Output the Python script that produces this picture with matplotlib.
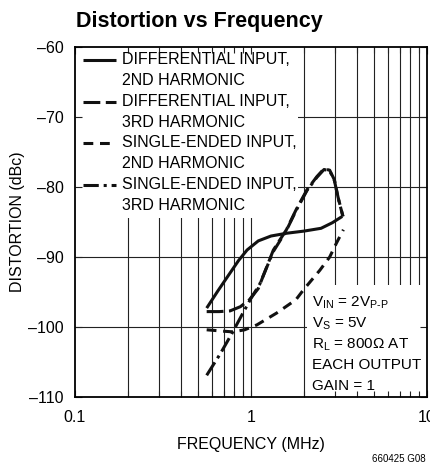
import numpy as np
import matplotlib
matplotlib.use('Agg')
import matplotlib.pyplot as plt
from matplotlib.patches import Rectangle
from matplotlib.ticker import LogLocator, FixedLocator, NullFormatter

plt.rcParams['font.family'] = ['Liberation Sans', 'DejaVu Sans']
plt.rcParams['mathtext.fontset'] = 'custom'
plt.rcParams['mathtext.rm'] = 'Liberation Sans'
plt.rcParams['mathtext.it'] = 'Liberation Sans'

# data (MHz, dBc)
diff2_f = [0.56, 0.65, 0.75, 0.85, 0.95, 1.1, 1.3, 1.6, 2.0, 2.5, 2.9, 3.3]
diff2_db = [-97.3, -94.8, -92.5, -90.5, -89.0, -87.7, -87.0, -86.6, -86.3, -85.9, -85.1, -84.2]

diff3_f = [0.56, 0.66, 0.76, 0.87, 0.98, 1.1, 1.34, 1.59, 1.8, 2.08, 2.37, 2.6, 2.8, 2.98, 3.12, 3.33]
diff3_db = [-97.8, -97.8, -97.7, -97.1, -96.1, -94.5, -89.0, -86.1, -83.3, -80.4, -78.5, -77.4, -77.6, -79.0, -81.4, -84.2]

se2_f = [0.56, 0.7, 0.79, 0.92, 1.08, 1.4, 1.8, 2.0, 2.46, 2.8, 3.06, 3.35]
se2_db = [-100.4, -100.6, -100.7, -100.4, -99.7, -98.0, -96.1, -94.6, -91.9, -90.0, -88.0, -86.1]

se3_f = [0.56, 0.67, 0.78, 0.9, 1.0, 1.12, 1.34, 1.59, 1.8, 2.08, 2.37, 2.6, 2.8, 2.98, 3.12, 3.33]
se3_db = [-106.9, -103.8, -100.9, -98.0, -95.9, -93.9, -89.2, -86.2, -83.4, -80.5, -78.6, -77.5, -77.7, -79.1, -81.5, -84.2]

legend_labels = ['DIFFERENTIAL INPUT,\n2ND HARMONIC', 'DIFFERENTIAL INPUT,\n3RD HARMONIC',
                 'SINGLE-ENDED INPUT,\n2ND HARMONIC', 'SINGLE-ENDED INPUT,\n3RD HARMONIC']
ytick_vals = [-110, -100, -90, -80, -70, -60]
ytick_labels = ['\u2013110', '\u2013100', '\u201390', '\u201380', '\u201370', '\u201360']
xtick_vals = [0.1, 1, 10]
xtick_labels = ['0.1', '1', '10']

styles = [
    dict(ls='-'),
    dict(ls=(0, (5.5, 1.8))),
    dict(ls=(0, (3.2, 2.2))),
    dict(ls=(0, (5, 1.6, 1, 1.6))),
]

W, H = 430, 467
fig = plt.figure(figsize=(W / 100, H / 100), dpi=100)
ax = fig.add_axes([75 / W, 1 - 397 / H, 352 / W, 350 / H])
ax.set_xscale('log')
ax.set_xlim(0.1, 10)
ax.set_ylim(-110, -60)

# grid
grid_x = [m * d for d in (0.1, 1) for m in range(1, 10)][1:]
ax.vlines(grid_x, -110, -60, color='#222222', lw=0.8, zorder=0.5)
ax.hlines([-100, -90, -80, -70], 0.1, 10, color='#222222', lw=0.8, zorder=0.5)

# boxes hiding the grid behind the legend and the conditions
ax.add_patch(Rectangle((0, 0.511), 0.634, 0.489, transform=ax.transAxes,
                       facecolor='white', edgecolor='none', zorder=1))
ax.add_patch(Rectangle((0.659, 0), 0.341, 0.32, transform=ax.transAxes,
                       facecolor='white', edgecolor='none', zorder=1))

series = [(diff2_f, diff2_db), (diff3_f, diff3_db), (se2_f, se2_db), (se3_f, se3_db)]
for (f, d), st in zip(series, styles):
    ax.plot(f, d, color='#111111', lw=2.2, zorder=3, solid_capstyle='butt',
            dash_capstyle='butt', **st)

# legend drawn by hand so the sample sits on the first text line
for i, (lab, st) in enumerate(zip(legend_labels, styles)):
    yc = 60 + i * 41.7
    ya = (397 - yc) / 350
    ax.plot([(83 - 75) / 352, (116 - 75) / 352], [ya, ya], transform=ax.transAxes,
            color='#111111', lw=2.2, zorder=3, solid_capstyle='butt', dash_capstyle='butt', **st)
    ax.text((122 - 75) / 352, ya + 8 / 350, lab, transform=ax.transAxes, fontsize=11.5,
            va='top', ha='left', linespacing=1.5, zorder=4)

cond = [r'V$_{\mathrm{IN}}$ = 2V$_{\mathrm{P\text{-}P}}$', r'V$_{\mathrm{S}}$ = 5V',
        r'R$_{\mathrm{L}}$ = 800$\Omega$ AT', 'EACH OUTPUT', 'GAIN = 1']
for i, c in enumerate(cond):
    yc = 303 + i * 20.7
    ax.text((312 - 75) / 352, (397 - yc) / 350, c, transform=ax.transAxes, fontsize=11,
            va='center', ha='left', zorder=4)

ax.xaxis.set_major_locator(FixedLocator(xtick_vals))
ax.set_xticklabels(xtick_labels)
ax.xaxis.set_minor_locator(LogLocator(base=10, subs=np.arange(2, 10)))
ax.xaxis.set_minor_formatter(NullFormatter())
ax.set_yticks(ytick_vals)
ax.set_yticklabels(ytick_labels)
ax.tick_params(which='both', direction='in', top=True, right=True, labelsize=11.5,
               width=0.8, color='#222222', zorder=5)
ax.tick_params(which='major', length=5)
ax.tick_params(which='minor', length=4)
ax.tick_params(axis='y', pad=8)
ax.tick_params(axis='x', pad=9)
for s in ax.spines.values():
    s.set_linewidth(1.3)
    s.set_zorder(5)

ax.set_xlabel('FREQUENCY (MHz)', fontsize=11.5, labelpad=9)
ax.set_ylabel('DISTORTION (dBc)', fontsize=11.5, labelpad=2)

fig.text(76 / W, 1 - 27 / H, 'Distortion vs Frequency', fontsize=15.5, fontweight='bold',
         ha='left', va='baseline')
fig.text(426 / W, 1 - 462 / H, '660425 G08', fontsize=7, ha='right', va='baseline')

fig.savefig('out.png', dpi=100)
